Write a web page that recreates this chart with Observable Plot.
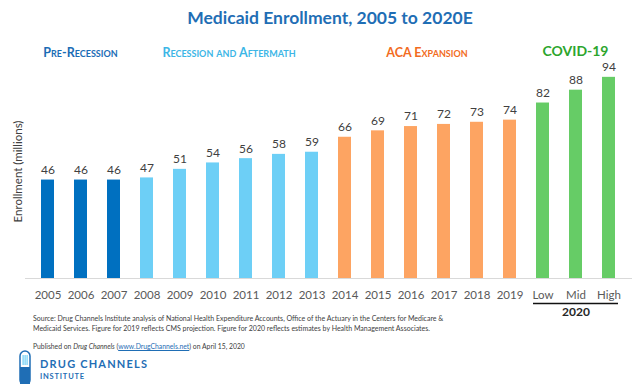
<!DOCTYPE html>
<html><head><meta charset="utf-8">
<script src="https://cdn.jsdelivr.net/npm/d3@7"></script>
<script src="https://cdn.jsdelivr.net/npm/@observablehq/plot@0.6"></script>
<style>
body{margin:0;background:#fff;font-family:Lato,"Open Sans",sans-serif;}
#wrap{position:relative;width:640px;height:384px;overflow:hidden;background:#fff;}
#title{position:absolute;top:7px;left:20px;width:620px;text-align:center;font-weight:bold;font-size:17.5px;color:#1F6EB5;line-height:22px;}
#chart{position:absolute;top:40px;left:0;}
#source{position:absolute;left:33px;top:314px;font-size:7px;color:#404040;line-height:9.5px;white-space:nowrap;}
#pub{position:absolute;left:33px;top:342px;font-size:6.8px;color:#404040;white-space:nowrap;}
#pub a{color:#1F6EB5;text-decoration:underline;}
#logo1{position:absolute;left:40px;top:357px;font-size:11px;font-weight:bold;letter-spacing:1.2px;color:#1F6EB5;white-space:nowrap;}
#logo2{position:absolute;left:40px;top:372px;font-size:7.5px;font-weight:bold;letter-spacing:0.8px;color:#1F6EB5;white-space:nowrap;}
#pill{position:absolute;left:19px;top:350px;}
</style></head>
<body>
<div id="wrap">
  <div id="title">Medicaid Enrollment, 2005 to 2020E</div>
  <div id="chart"></div>
  <div id="source">Source: Drug Channels Institute analysis of National Health Expenditure Accounts, Office of the Actuary in the Centers for Medicare &amp;<br>Medicaid Services. Figure for 2019 reflects CMS projection. Figure for 2020 reflects estimates by Health Management Associates.</div>
  <div id="pub">Published on <i>Drug Channels</i> (<a>www.DrugChannels.net</a>) on April 15, 2020</div>
  <svg id="pill" width="12" height="34" viewBox="0 0 12 34">
    <rect x="1" y="1" width="10" height="34" rx="5" fill="none" stroke="#1F6EB5" stroke-width="1.5"/>
    <rect x="1" y="17" width="10" height="17" fill="#1F6EB5"/>
    <rect x="3.5" y="5" width="1.2" height="10" fill="#6DCFF6"/>
    <rect x="5.5" y="5" width="1.2" height="10" fill="#6DCFF6"/>
    <rect x="7.5" y="5" width="1.2" height="10" fill="#6DCFF6"/>
  </svg>
  <div id="logo1">DRUG CHANNELS</div>
  <div id="logo2">INSTITUTE</div>
</div>
<script>
const categories = ["2005","2006","2007","2008","2009","2010","2011","2012","2013","2014","2015","2016","2017","2018","2019","Low","Mid","High"];
const values = [46,46,46,47,51,54,56,58,59,66,69,71,72,73,74,82,88,94];
const periods = ["pre","pre","pre","rec","rec","rec","rec","rec","rec","aca","aca","aca","aca","aca","aca","covid","covid","covid"];
const periodKeys = ["pre","rec","aca","covid"];
const periodNames = ["Pre-Recession","Recession and Aftermath","ACA Expansion","COVID-19"];
const barColors = ["#0070C0","#6DCFF6","#FDA462","#66CC66"];
const labelColors = ["#1B6CB5","#3CB6E6","#F26B22","#2CA52C"];
const yearGroupCats = ["Low","Mid","High"];
const yearGroupLabel = "2020";
const yLabel = "Enrollment (millions)";

const data = categories.map((c, i) => ({cat: c, value: values[i], period: periods[i]}));

function periodLabels(index, scales) {
  const {x, y} = scales;
  const step = x(categories[1]) - x(categories[0]);
  const bw = x.bandwidth ? x.bandwidth() : step * 0.4;
  const g = d3.create("svg:g");
  periodKeys.forEach((k, i) => {
    const cats = categories.filter((c, j) => periods[j] === k);
    const cx = (x(cats[0]) + x(cats[cats.length - 1])) / 2 + bw / 2;
    const isCaps = k === "covid";
    g.append("text")
      .attr("x", cx)
      .attr("y", y(100) - (isCaps ? 8 : 7))
      .attr("text-anchor", "middle")
      .attr("font-family", "Lato, 'Open Sans', sans-serif")
      .attr("font-weight", "bold")
      .attr("font-size", isCaps ? 14 : 12.5)
      .attr("font-variant", isCaps ? "normal" : "small-caps")
      .attr("fill", labelColors[i])
      .text(periodNames[i]);
  });
  return g.node();
}

const chart = Plot.plot({
  width: 640,
  height: 284,
  marginTop: 24,
  marginBottom: 46,
  marginLeft: 25,
  marginRight: 8,
  style: {fontFamily: "Lato, 'Open Sans', sans-serif", fontSize: "11.5px", color: "#595959", background: "transparent", overflow: "visible"},
  x: {domain: categories, paddingInner: 0.6, paddingOuter: 0.3, label: null, tickSize: 0, tickPadding: 12},
  y: {domain: [0, 100], axis: null},
  color: {domain: periodKeys, range: barColors},
  marks: [
    Plot.barY(data, {x: "cat", y: "value", fill: "period"}),
    Plot.ruleY([0], {stroke: "#D9D9D9", strokeWidth: 1}),
    Plot.text(data, {x: "cat", y: "value", text: d => String(d.value), dy: -10, fill: "#404040", fontSize: 12}),
    Plot.text([yLabel], {frameAnchor: "left", textAnchor: "middle", rotate: -90, dx: -7, text: d => d, fill: "#404040", fontSize: 11.5}),
    Plot.ruleY([0], {x1: () => yearGroupCats[0], x2: () => yearGroupCats[yearGroupCats.length - 1], dy: 25, stroke: "#111", strokeWidth: 1.5, insetLeft: -3, insetRight: -3}),
    Plot.text([yearGroupLabel], {x: () => yearGroupCats[1], y: () => 0, dy: 34, text: d => d, fill: "#262626", fontWeight: "bold", fontSize: 12}),
    periodLabels
  ]
});
document.getElementById("chart").appendChild(chart);
</script>
</body></html>
